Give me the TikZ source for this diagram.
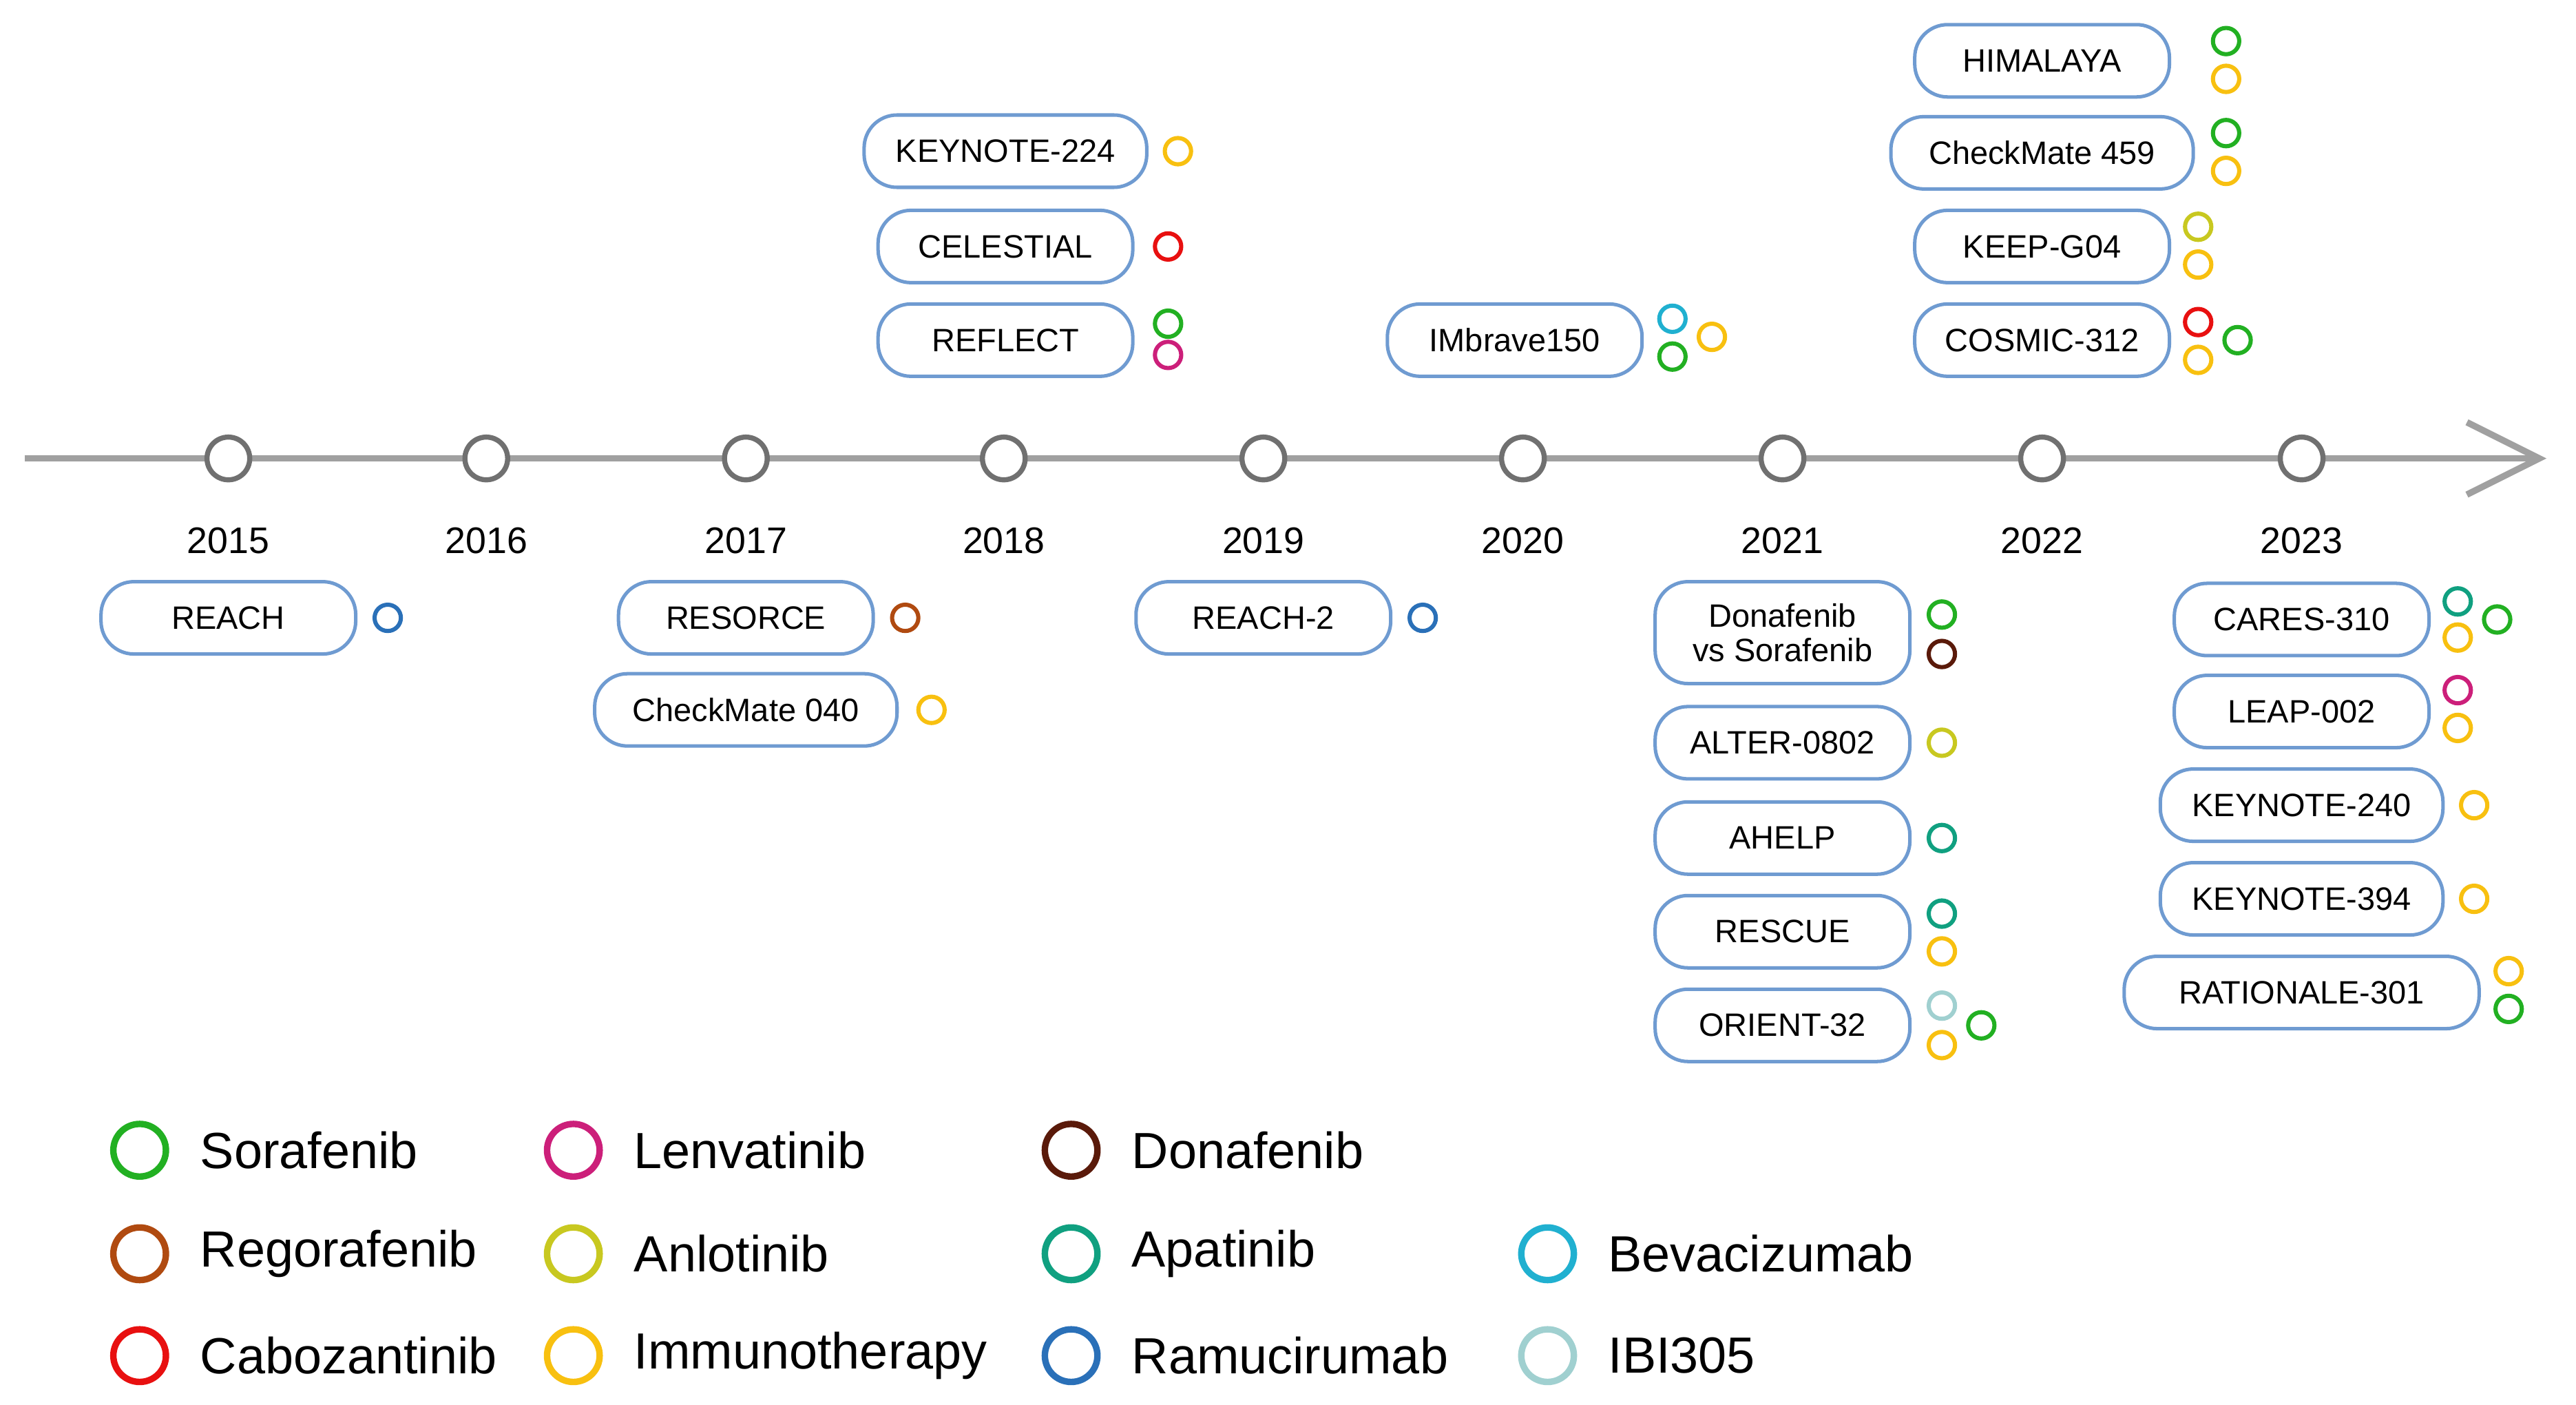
\documentclass[tikz,border=0pt]{standalone}
\usepackage{fontspec}
\setmainfont{Liberation Sans}
\usetikzlibrary{arrows.meta}
\definecolor{sora}{HTML}{22B022}
\definecolor{lenva}{HTML}{CC1F7A}
\definecolor{dona}{HTML}{5A1A0A}
\definecolor{rego}{HTML}{B04A10}
\definecolor{anlo}{HTML}{C8C820}
\definecolor{apa}{HTML}{10A080}
\definecolor{bev}{HTML}{20B0D0}
\definecolor{cabo}{HTML}{E81010}
\definecolor{imm}{HTML}{F8C010}
\definecolor{ramu}{HTML}{2A70B8}
\definecolor{ibi}{HTML}{A0D0D0}
\definecolor{boxline}{HTML}{6F9BD1}
\definecolor{axis}{HTML}{A0A0A0}
\definecolor{yearring}{HTML}{707070}
\tikzset{
  trial/.style={draw=boxline, line width=1.5pt, rounded corners=0.5cm, fill=white,
    minimum width=3.875cm, minimum height=1.1cm, align=center, font=\fontsize{14}{16}\selectfont},
  drug/.style={circle, draw=#1, line width=1.8pt, inner sep=0pt, minimum size=0.4cm},
  key/.style={circle, draw=#1, line width=2.8pt, inner sep=0pt, minimum size=0.8cm},
  keytext/.style={anchor=west, font=\fontsize{22}{24}\selectfont},
  year/.style={circle, draw=yearring, line width=2.2pt, fill=white, inner sep=0pt, minimum size=0.65cm}
}
\begin{document}
\begin{tikzpicture}[x=0.025cm, y=-0.025cm]
\useasboundingbox (0,0) rectangle (1568,855);
% timeline
\coordinate (start) at (15,279);
\coordinate (end) at (1550,279);
\draw[axis, line width=2.8pt, -{Straight Barb[length=1.1cm, width=1.1cm, line width=2.8pt]}] (start) -- (end);
\foreach \yr/\x in {2015/139,2016/296,2017/454,2018/611,2019/769,2020/927,2021/1085,2022/1243,2023/1401}{
  \node[year] (y\yr) at (\x,279) {};
  \node[font=\fontsize{16}{18}\selectfont] (l\yr) at (\x,329) {\yr};
}
% trials above the axis
\node[trial, minimum width=4.3cm] (keynote224) at (612,92) {KEYNOTE-224};
\node[trial] (celestial) at (612,150) {CELESTIAL};
\node[trial] (reflect) at (612,207) {REFLECT};
\node[trial] (imbrave) at (922,207) {IMbrave150};
\node[trial] (himalaya) at (1243,37) {HIMALAYA};
\node[trial, minimum width=4.6cm] (cm459) at (1243,93) {CheckMate 459};
\node[trial] (keepg04) at (1243,150) {KEEP-G04};
\node[trial] (cosmic) at (1243,207) {COSMIC-312};
% trials below the axis
\node[trial] (reach) at (139,376) {REACH};
\node[trial] (resorce) at (454,376) {RESORCE};
\node[trial, minimum width=4.6cm] (cm040) at (454,432) {CheckMate 040};
\node[trial] (reach2) at (769,376) {REACH-2};
\node[trial, minimum height=1.55cm, font=\fontsize{14}{15}\selectfont] (dona) at (1085,385) {Donafenib\\vs Sorafenib};
\node[trial] (alter) at (1085,452) {ALTER-0802};
\node[trial] (ahelp) at (1085,510) {AHELP};
\node[trial] (rescue) at (1085,567) {RESCUE};
\node[trial] (orient) at (1085,624) {ORIENT-32};
\node[trial] (cares) at (1401,377) {CARES-310};
\node[trial] (leap) at (1401,433) {LEAP-002};
\node[trial, minimum width=4.3cm] (kn240) at (1401,490) {KEYNOTE-240};
\node[trial, minimum width=4.3cm] (kn394) at (1401,547) {KEYNOTE-394};
\node[trial, minimum width=5.4cm] (rationale) at (1401,604) {RATIONALE-301};
% drug markers
\foreach \n/\c/\x/\y in {
  a/imm/717/92, b/cabo/711/150, c/sora/711/197, d/lenva/711/216,
  e/bev/1018/194, f/sora/1018/217, g/imm/1042/205,
  h/sora/1355/25, i/imm/1355/48, j/sora/1355/81, k/imm/1355/104,
  l/anlo/1338/138, m/imm/1338/161, n/cabo/1338/196, o/imm/1338/219, p/sora/1362/207,
  q/ramu/236/376, r/rego/551/376, s/imm/567/432, t/ramu/866/376,
  u/sora/1182/374, v/dona/1182/398, w/anlo/1182/452, x/apa/1182/510,
  y/apa/1182/556, z/imm/1182/579, aa/ibi/1182/612, ab/imm/1182/636, ac/sora/1206/624,
  ad/apa/1496/366, ae/imm/1496/388, af/sora/1520/377, ag/lenva/1496/420, ah/imm/1496/443,
  ai/imm/1506/490, aj/imm/1506/547, ak/imm/1527/591, al/sora/1527/614}
  \node[drug=\c] (m\n) at (\x,\y) {};
% legend
\foreach \c/\name/\x/\y in {
  sora/Sorafenib/85/700, lenva/Lenvatinib/349/700, dona/Donafenib/652/700,
  rego/Regorafenib/85/763, anlo/Anlotinib/349/763, apa/Apatinib/652/763, bev/Bevacizumab/942/763,
  cabo/Cabozantinib/85/825, imm/Immunotherapy/349/825, ramu/Ramucirumab/652/825, ibi/IBI305/942/825}{
  \node[key=\c] (k\c) at (\x,\y) {};
  \node[keytext] (t\c) at ([xshift=0.35cm]k\c.east) {\name};
}
\end{tikzpicture}
\end{document}
